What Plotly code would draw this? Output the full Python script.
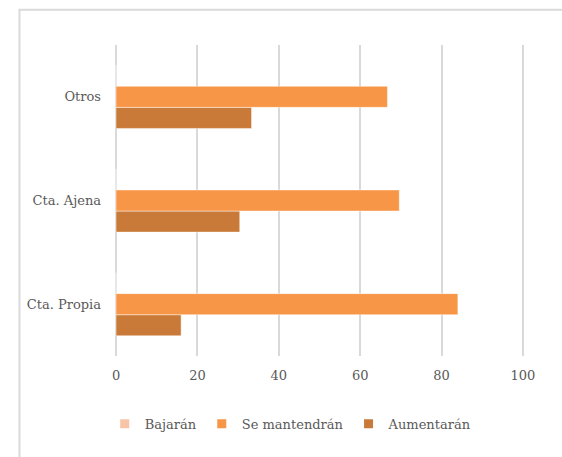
import plotly.graph_objects as go

# Categories (bottom to top) and series values (%)
categorias = ["Cta. Propia", "Cta. Ajena", "Otros"]
bajaran = [0, 0, 0]
se_mantendran = [84, 69.6, 66.7]
aumentaran = [16, 30.4, 33.3]

series = [
    ("Aumentarán", aumentaran, "#CA7A38", 3),
    ("Se mantendrán", se_mantendran, "#F79646", 2),
    ("Bajarán", bajaran, "#F9C3A8", 1),
]

FONT = "DejaVu Serif"
GRIS = "#595959"
GRID = "#D9D9D9"

fig = go.Figure()

# Bars: first trace is drawn lowest within each group
for nombre, valores, color, rank in series:
    fig.add_trace(go.Bar(
        y=categorias, x=valores, name=nombre, orientation="h",
        marker=dict(color=color, line=dict(color="rgba(255,255,255,0.45)", width=1)),
        showlegend=False,
    ))
    # legend entry with a small square symbol
    fig.add_trace(go.Scatter(
        x=[None], y=[None], mode="markers", name=nombre,
        marker=dict(symbol="square", size=9, color=color),
        legendrank=rank, showlegend=True,
    ))

fig.update_layout(
    width=562, height=457,
    margin=dict(l=114, r=37, t=45, b=101),
    paper_bgcolor="white", plot_bgcolor="white",
    barmode="group", bargap=0.39, bargroupgap=0,
    font=dict(family=FONT, size=13, color=GRIS),
    showlegend=True,
    legend=dict(
        orientation="h", x=0.43, xanchor="center", y=-0.17, yanchor="top",
        font=dict(family=FONT, size=13, color=GRIS),
        itemwidth=30, itemclick=False, tracegroupgap=0,
    ),
    xaxis=dict(
        range=[-0.5, 100.5], tickvals=[0, 20, 40, 60, 80, 100],
        showgrid=True, gridcolor=GRID, gridwidth=1.5,
        zeroline=True, zerolinecolor=GRID, zerolinewidth=1.5,
        showline=False, ticks="",
        ticklabelstandoff=10, fixedrange=True,
    ),
    yaxis=dict(
        showgrid=False, zeroline=False, showline=False, ticks="",
        ticklabelstandoff=12, fixedrange=True,
    ),
    shapes=[
        # chart area border (left and top edges fall inside the canvas)
        dict(type="rect", xref="paper", yref="paper",
             x0=-0.23, x1=1.2, y0=-0.4, y1=1.113,
             line=dict(color=GRID, width=2), layer="below"),
    ],
)

fig.write_html("out.html")
